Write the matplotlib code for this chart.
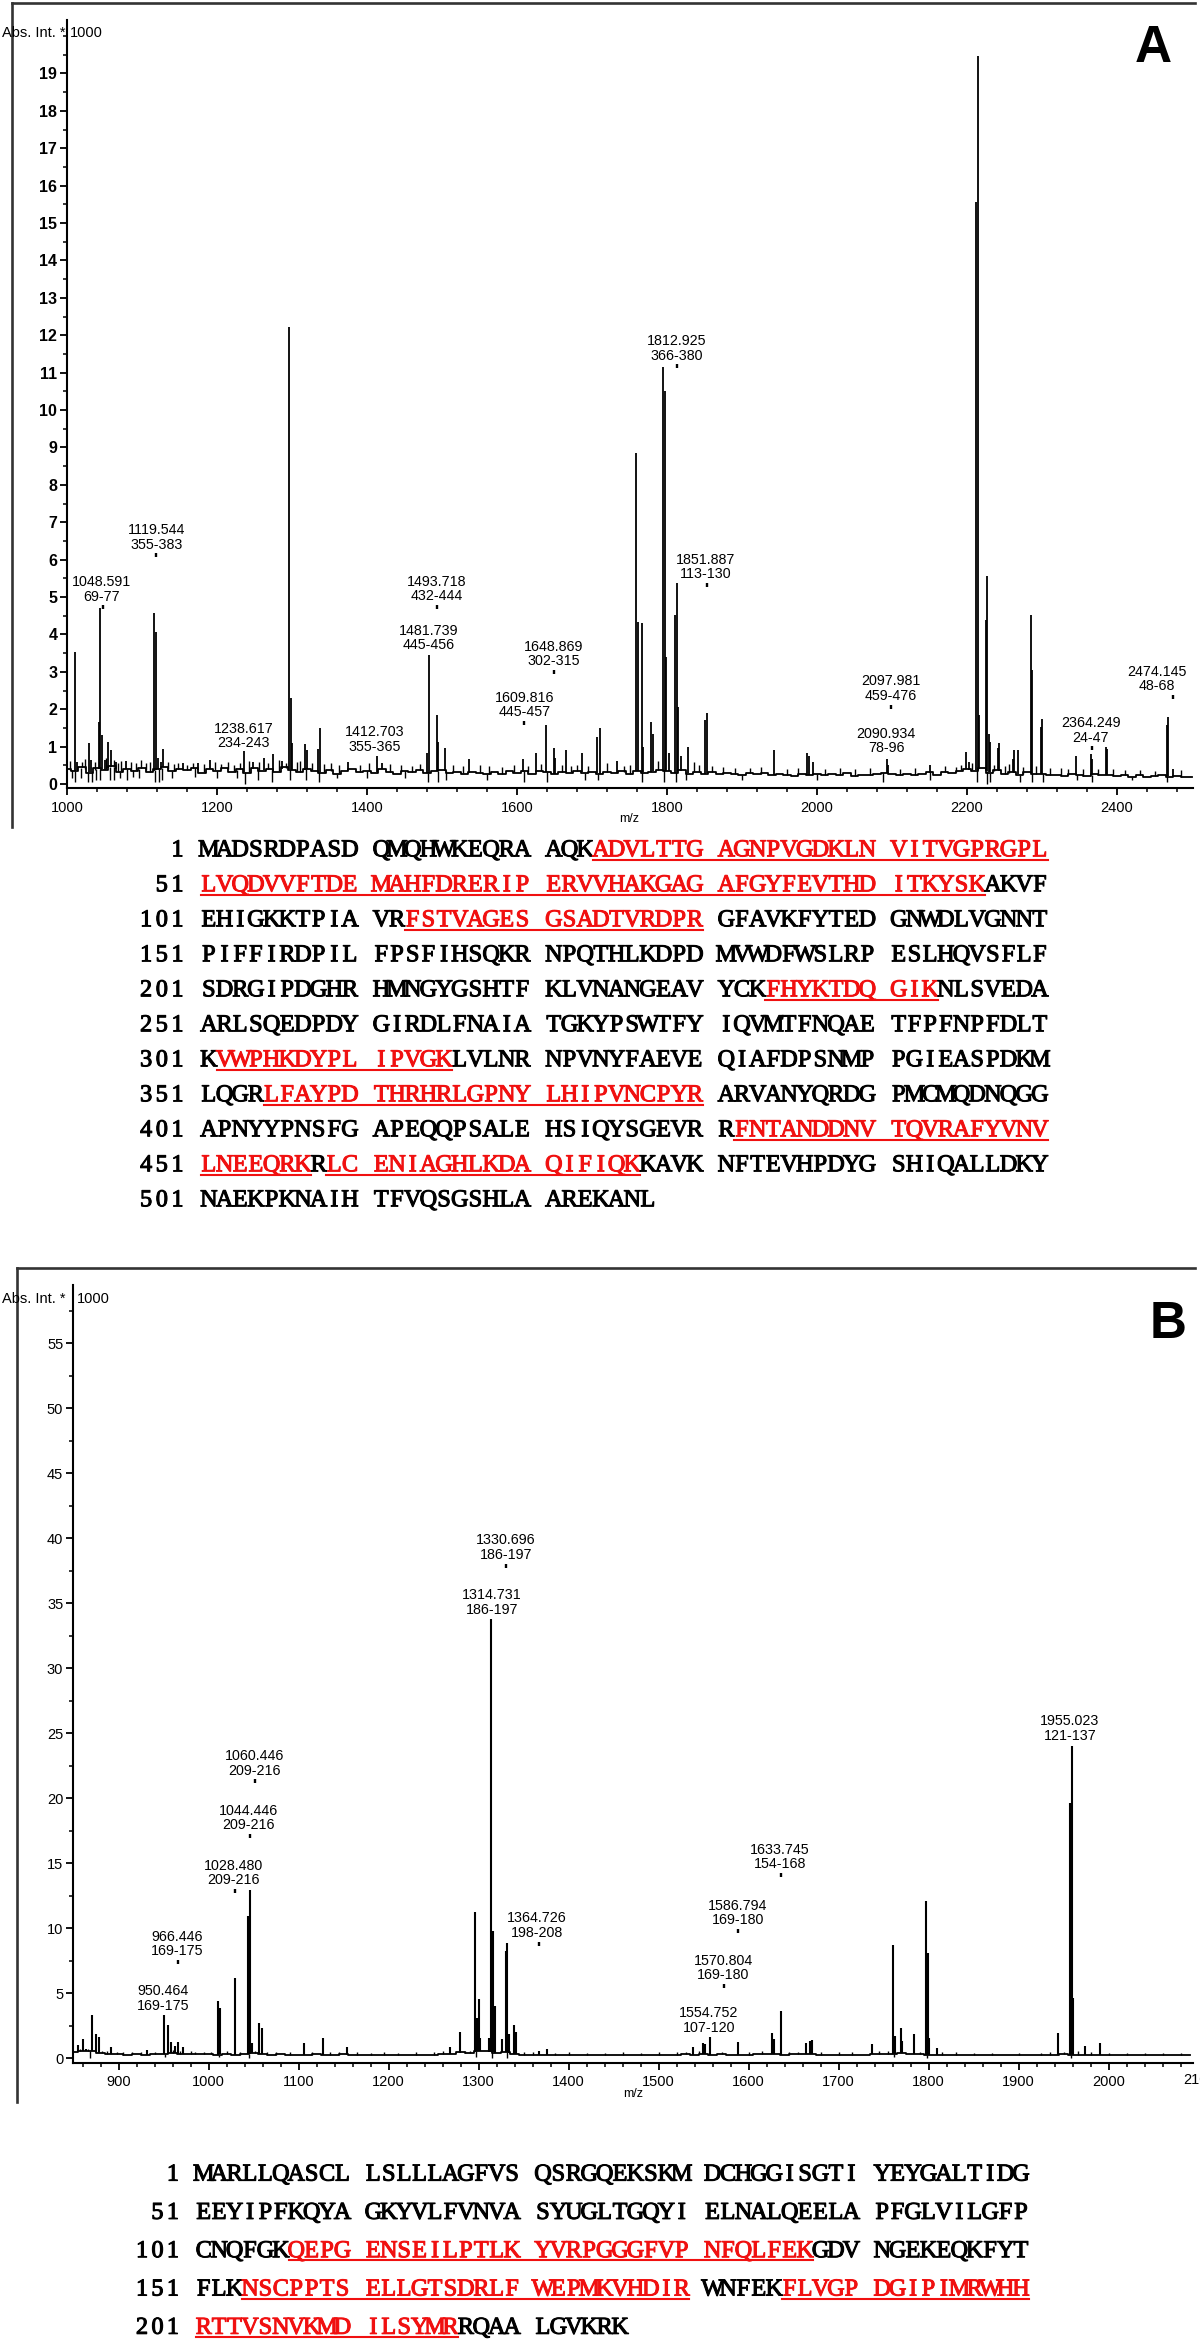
import numpy as np
import matplotlib
matplotlib.use('Agg')
import matplotlib.pyplot as plt
from matplotlib.lines import Line2D
from matplotlib.ticker import MultipleLocator, FixedLocator
import matplotlib.patheffects as pe

plt.rcParams['font.family'] = ['Liberation Sans', 'DejaVu Sans']

# ---------------- data: panel A spectrum ----------------
A_noise_start, A_noise_step = 1000, 10
A_noise = [0.40,0.35,0.45,0.30,0.42,0.38,0.47,0.33,0.41,0.36,
           0.44,0.31,0.39,0.46,0.34,0.40,0.37,0.43,0.30,0.41,
           0.36,0.44,0.33,0.39,0.29,0.42,0.35,0.40,0.31,0.45,
           0.38,0.32,0.41,0.35,0.30,0.37,0.28,0.34,0.39,0.31,
           0.36,0.30,0.40,0.33,0.27,0.35,0.31,0.38,0.29,0.34,
           0.37,0.30,0.33,0.27,0.32,0.29,0.26,0.31,0.28,0.35,
           0.30,0.34,0.28,0.36,0.31,0.27,0.33,0.30,0.35,0.29,
           0.32,0.27,0.31,0.29,0.34,0.28,0.36,0.30,0.33,0.38,
           0.35,0.30,0.37,0.28,0.33,0.27,0.31,0.26,0.30,0.28,
           0.25,0.29,0.26,0.30,0.24,0.28,0.25,0.22,0.27,0.24,
           0.28,0.23,0.26,0.24,0.29,0.22,0.25,0.23,0.27,0.30,
           0.26,0.24,0.28,0.23,0.27,0.31,0.25,0.33,0.29,0.36,
           0.40,0.35,0.42,0.30,0.38,0.27,0.33,0.25,0.31,0.28,
           0.26,0.23,0.25,0.22,0.27,0.24,0.21,0.26,0.23,0.25,
           0.22,0.24,0.20,0.23,0.19,0.22,0.24,0.20,0.21,0.18,
           0.20]
A_peak_mz = [1010,1013,1029,1032,1042,1044,1046,1050,1055,1058,1065,1078,1116,1118,1121,1125,1128,
             1155,1175,1190,1236,1248,1263,1275,1287,1296,1298,1300,1317,1320,1335,1337,1375,1413,1420,
             1480,1482,1493,1495,1504,1536,1608,1625,1639,1649,1651,1665,1687,1707,1710,1733,
             1759,1761,1766,1768,1779,1781,1795,1797,1799,1803,1811,1813,1815,1818,1828,1851,1853,
             1942,1987,1989,1995,2093,2095,2151,2199,2203,2212,2214,2216,2225,2227,2229,2231,2241,2243,
             2261,2263,2268,2285,2287,2298,2300,2345,2365,2367,2385,2387,2466,2468,2475]
A_peak_h = [3.54,0.60,1.10,0.65,1.67,4.70,1.30,0.65,1.13,0.90,0.60,0.62,4.56,4.07,0.70,0.60,0.93,
            0.55,0.55,0.65,0.88,0.60,0.70,0.80,0.62,12.23,2.30,1.10,1.07,0.90,0.93,1.50,0.60,0.75,0.55,
            0.83,3.45,1.84,1.13,0.96,0.66,0.66,0.83,1.58,0.96,0.70,0.92,0.83,1.27,1.50,0.62,
            8.84,4.34,4.30,0.99,1.67,1.35,11.14,10.50,3.40,0.83,4.52,5.37,2.07,0.75,0.99,1.71,1.90,
            0.90,0.83,0.75,0.60,0.68,0.50,0.50,0.85,0.60,15.56,19.48,1.84,4.38,5.56,1.35,1.13,0.96,1.10,
            0.68,0.92,0.92,4.52,3.05,1.53,1.75,0.75,0.81,0.66,0.99,0.93,1.58,1.80,0.40]
A_small_mz = [1004,1020,1024,1037,1052,1062,1068,1072,1085,1092,1098,1105,1110,1135,1142,1148,1160,
              1168,1182,1197,1205,1214,1222,1230,1243,1256,1268,1282,1292,1306,1311,1326,1343,1352,
              1362,1390,1402,1430,1445,1460,1470,1515,1528,1550,1563,1580,1596,1615,1632,1660,1672,
              1680,1695,1720,1742,1750,1788,1836,1842,1860,1875,1890,1910,1925,1960,1975,2010,2030,
              2050,2070,2110,2130,2170,2185,2192,2207,2236,2250,2256,2275,2292,2310,2325,2335,2355,
              2375,2395,2410,2430,2450,2485]
A_small_h = [0.62,0.58,0.66,0.60,0.70,0.64,0.55,0.61,0.59,0.57,0.63,0.56,0.60,0.58,0.54,0.57,0.52,
             0.55,0.53,0.58,0.54,0.60,0.51,0.56,0.62,0.58,0.55,0.64,0.57,0.59,0.61,0.55,0.53,0.56,
             0.50,0.52,0.55,0.54,0.51,0.49,0.53,0.50,0.47,0.52,0.49,0.46,0.51,0.48,0.53,0.50,0.47,
             0.52,0.49,0.55,0.47,0.50,0.62,0.58,0.52,0.47,0.45,0.44,0.42,0.45,0.41,0.44,0.40,0.43,
             0.39,0.42,0.41,0.44,0.47,0.45,0.52,0.55,0.50,0.48,0.53,0.46,0.49,0.44,0.42,0.40,0.41,
             0.39,0.40,0.37,0.38,0.36,0.37]
A_dip_mz = [1006,1011,1018,1028,1033,1039,1044,1057,1062,1070,1080,1088,1096,1117,1122,1127,1140,
            1170,1200,1226,1237,1255,1273,1297,1318,1336,1360,1400,1450,1481,1494,1505,1560,1609,
            1640,1690,1708,1767,1796,1812,1825,1900,2000,2088,2150,2213,2226,2230,2270,2286,2301,
            2346,2366,2420,2467]
A_dip_y = [0.15,0.05,0.15,0.05,0.05,0.12,0.10,0.10,0.10,0.15,0.10,0.18,0.15,0.05,0.05,0.10,0.15,
           0.18,0.15,0.15,0.00,0.10,0.05,0.10,0.10,0.05,0.15,0.15,0.15,0.05,0.05,0.10,0.12,0.05,
           0.05,0.12,0.10,0.05,0.05,0.05,0.10,0.12,0.12,0.05,0.10,0.05,0.00,0.05,0.05,0.05,0.05,
           0.10,0.05,0.10,0.05]
A_lab_text = ["1048.591\n69-77", "1119.544\n355-383", "1238.617\n234-243", "1412.703\n355-365",
              "1481.739\n445-456", "1493.718\n432-444", "1609.816\n445-457", "1648.869\n302-315",
              "1812.925\n366-380", "1851.887\n113-130", "2097.981\n459-476", "2090.934\n78-96",
              "2364.249\n24-47", "2474.145\n48-68"]
A_lab_x = [1046, 1119.5, 1235, 1410.7, 1481.8, 1493, 1610.7, 1648.4, 1812.7, 1852, 2098, 2092, 2365, 2453]
A_dot_x = [1047.5, 1119, 1235, 1410.7, 1481.8, 1493, 1609.5, 1649, 1812.7, 1853, 2098, 2092, 2366, 2475]
A_dot_y = [4.72, 6.12, 0.81, 0.71, 3.43, 4.74, 1.64, 3.0, 11.17, 5.32, 2.07, 0.67, 0.95, 2.33]
A_dot_show = [True, True, False, False, False, True, True, True, True, True, True, False, True, True]
A_xticks = [1000, 1200, 1400, 1600, 1800, 2000, 2200, 2400]
A_yticks = list(range(0, 20))

# ---------------- data: panel B spectrum ----------------
B_noise_start, B_noise_step = 850, 10
B_noise = [0.45,0.60,0.55,0.40,0.35,0.30,0.28,0.32,0.27,0.30,
           0.35,0.40,0.32,0.36,0.30,0.33,0.29,0.31,0.27,0.30,
           0.40,0.33,0.28,0.30,0.26,0.29,0.27,0.31,0.28,0.26,
           0.30,0.27,0.25,0.29,0.26,0.28,0.24,0.27,0.25,0.26,
           0.28,0.30,0.34,0.45,0.38,0.60,0.55,0.40,0.50,0.30,
           0.27,0.29,0.26,0.28,0.25,0.27,0.24,0.26,0.28,0.25,
           0.27,0.24,0.26,0.28,0.25,0.27,0.29,0.26,0.30,0.28,
           0.32,0.28,0.30,0.26,0.29,0.27,0.31,0.33,0.30,0.28,
           0.30,0.34,0.31,0.28,0.26,0.29,0.27,0.25,0.28,0.30,
           0.33,0.36,0.38,0.34,0.30,0.28,0.27,0.25,0.26,0.24,
           0.26,0.25,0.27,0.24,0.26,0.25,0.23,0.26,0.24,0.27,
           0.32,0.28,0.25,0.27,0.24,0.26,0.23,0.25,0.24,0.22,
           0.24,0.22,0.25,0.23,0.24]
B_peak_mz = [855,860,864,870,875,878,892,932,950,955,958,963,966,972,1010,1013,1029,1044,1046,1048,
             1056,1059,1106,1127,1154,1268,1279,1296,1298,1300,1302,1312,1314,1316,1318,1326,1330,
             1332,1334,1339,1341,1367,1376,1538,1549,1551,1557,1588,1626,1628,1636,1664,1668,1671,
             1737,1761,1763,1769,1771,1784,1797,1799,1801,1809,1944,1957,1959,1961,1974,1990]
B_peak_h = [1.02,1.45,0.74,3.31,1.85,1.67,0.90,0.64,3.31,2.57,1.26,0.95,1.28,0.87,4.41,3.90,6.20,10.95,12.95,1.20,
            2.72,2.33,1.15,1.54,0.87,0.87,2.03,11.26,3.10,4.54,1.54,1.60,33.80,9.80,4.03,1.45,8.26,
            8.85,1.85,2.57,2.00,0.60,0.72,0.90,1.20,1.08,1.67,1.26,1.97,1.46,3.64,1.20,1.33,1.40,
            1.08,8.72,1.72,2.36,1.33,1.85,12.10,8.13,1.59,0.82,1.97,19.60,24.00,4.67,0.95,1.20]
B_small_mz = [857,866,881,887,898,905,915,925,940,960,968,980,985,995,1003,1020,1035,1052,1065,1075,
              1090,1115,1135,1145,1165,1180,1195,1210,1230,1250,1260,1285,1290,1350,1360,1385,1400,
              1420,1440,1460,1480,1500,1520,1530,1545,1570,1600,1615,1645,1655,1680,1700,1715,1745,
              1755,1790,1815,1830,1850,1870,1900,1925,1935,1950,1966,1980,2000,2020,2040,2060,2080]
B_small_h = [0.70,0.75,0.60,0.55,0.50,0.48,0.52,0.45,0.50,0.62,0.58,0.55,0.52,0.50,0.48,0.55,0.52,
             0.60,0.50,0.48,0.45,0.50,0.47,0.52,0.45,0.44,0.47,0.43,0.46,0.48,0.55,0.60,0.58,0.50,
             0.46,0.44,0.45,0.43,0.42,0.45,0.44,0.46,0.45,0.50,0.55,0.52,0.48,0.55,0.50,0.52,0.47,
             0.49,0.50,0.55,0.58,0.52,0.50,0.47,0.44,0.42,0.41,0.43,0.45,0.50,0.55,0.45,0.42,0.40,
             0.41,0.39,0.40]
B_dip_mz = [868, 951, 1011, 1045, 1297, 1315, 1331, 1762, 1798, 1958]
B_dip_y = [0.05, 0.10, 0.10, 0.05, 0.10, 0.05, 0.05, 0.10, 0.05, 0.05]
B_lab_text = ["950.464\n169-175", "966.446\n169-175", "1028.480\n209-216", "1044.446\n209-216",
              "1060.446\n209-216", "1314.731\n186-197", "1330.696\n186-197", "1364.726\n198-208",
              "1554.752\n107-120", "1570.804\n169-180", "1586.794\n169-180", "1633.745\n154-168",
              "1955.023\n121-137"]
B_lab_x = [949.8, 965, 1027.6, 1044.6, 1051, 1314.7, 1330.4, 1364.9, 1556, 1571.8, 1588, 1634.8, 1957.1]
B_dot_x = [950, 966, 1029, 1046, 1051, 1315, 1330.4, 1367, 1556, 1573, 1588, 1636, 1957]
B_dot_y = [3.23, 7.41, 12.87, 17.1, 21.3, 33.7, 37.9, 8.82, 1.54, 5.56, 9.8, 14.1, 24.0]
B_dot_show = [False, True, True, True, True, False, True, True, False, True, True, True, False]
B_xticks = [900, 1000, 1100, 1200, 1300, 1400, 1500, 1600, 1700, 1800, 1900, 2000]
B_yticks = [0, 5, 10, 15, 20, 25, 30, 35, 40, 45, 50, 55]

# ---------------- data: sequences ----------------
seqA_rows = ["MADSRDPASD QMQHWKEQRA AQKADVLTTG AGNPVGDKLN VITVGPRGPL",
             "LVQDVVFTDE MAHFDRERIP ERVVHAKGAG AFGYFEVTHD ITKYSKAKVF",
             "EHIGKKTPIA VRFSTVAGES GSADTVRDPR GFAVKFYTED GNWDLVGNNT",
             "PIFFIRDPIL FPSFIHSQKR NPQTHLKDPD MVWDFWSLRP ESLHQVSFLF",
             "SDRGIPDGHR HMNGYGSHTF KLVNANGEAV YCKFHYKTDQ GIKNLSVEDA",
             "ARLSQEDPDY GIRDLFNAIA TGKYPSWTFY IQVMTFNQAE TFPFNPFDLT",
             "KVWPHKDYPL IPVGKLVLNR NPVNYFAEVE QIAFDPSNMP PGIEASPDKM",
             "LQGRLFAYPD THRHRLGPNY LHIPVNCPYR ARVANYQRDG PMCMQDNQGG",
             "APNYYPNSFG APEQQPSALE HSIQYSGEVR RFNTANDDNV TQVRAFYVNV",
             "LNEEQRKRLC ENIAGHLKDA QIFIQKKAVK NFTEVHPDYG SHIQALLDKY",
             "NAEKPKNAIH TFVQSGSHLA AREKANL"]
seqA_red = [(24, 96), (113, 130), (234, 243), (302, 315), (355, 380), (432, 457), (459, 476)]
seqB_rows = ["MARLLQASCL LSLLLAGFVS QSRGQEKSKM DCHGGISGTI YEYGALTIDG",
             "EEYIPFKQYA GKYVLFVNVA SYUGLTGQYI ELNALQEELA PFGLVILGFP",
             "CNQFGKQEPG ENSEILPTLK YVRPGGGFVP NFQLFEKGDV NGEKEQKFYT",
             "FLKNSCPPTS ELLGTSDRLF WEPMKVHDIR WNFEKFLVGP DGIPIMRWHH",
             "RTTVSNVKMD ILSYMRRQAA LGVKRK"]
seqB_red = [(107, 137), (154, 180), (186, 216)]

# ---------------- figure ----------------
W, H, DPI = 1200, 2351, 100
fig = plt.figure(figsize=(W / DPI, H / DPI), dpi=DPI)
fig.patch.set_facecolor('white')


def fx(x):
    return x / W


def fy(y):
    return 1 - y / H


def axes_px(l, t, r, b):
    return fig.add_axes([fx(l), fy(b), (r - l) / W, (b - t) / H])


def frame(x_left, y_top, y_bottom, x_right):
    fig.add_artist(Line2D([fx(x_left), fx(x_left)], [fy(y_top), fy(y_bottom)],
                          transform=fig.transFigure, color='#333333', lw=1.9))
    fig.add_artist(Line2D([fx(x_left), fx(x_right)], [fy(y_top), fy(y_top)],
                          transform=fig.transFigure, color='#333333', lw=1.9))


def draw_spectrum(ax, n_start, n_step, noise, pk_mz, pk_h, sm_mz, sm_h, dip_mz, dip_y, lw_pk):
    nx = n_start + n_step * np.arange(len(noise))
    ny = np.array(noise)
    ax.plot(nx, ny, color='black', lw=1.3, drawstyle='steps-mid')
    base = np.interp(sm_mz, nx, ny)
    ax.vlines(sm_mz, base, sm_h, color='black', lw=1.0)
    dbase = np.interp(dip_mz, nx, ny)
    ax.vlines(dip_mz, dip_y, dbase, color='black', lw=1.0)
    base = np.interp(pk_mz, nx, ny)
    ax.vlines(pk_mz, base, pk_h, color='black', lw=lw_pk)


def draw_labels(ax, texts, lx, dx, dy, show, fs=10.3):
    for t, x, xd, y, s in zip(texts, lx, dx, dy, show):
        if s:
            ax.plot([xd], [y], marker='|', ms=3.5, mew=1.7, color='black', ls='none')
        ax.annotate(t, xy=(x, y), xytext=(0, 2.6), textcoords='offset points',
                    ha='center', va='bottom', fontsize=fs, linespacing=1.05,
                    color='black', annotation_clip=False)


def style_axes(ax, ylab_bold, yfs, xfs):
    for s in ['top', 'right']:
        ax.spines[s].set_visible(False)
    for s in ['left', 'bottom']:
        ax.spines[s].set_linewidth(1.5)
        ax.spines[s].set_color('black')
    ax.tick_params(which='major', direction='out', length=5, width=1.3, colors='black')
    ax.tick_params(which='minor', direction='out', length=3, width=1.1, colors='black')
    ax.tick_params(axis='y', labelsize=yfs, pad=2)
    ax.tick_params(axis='x', labelsize=xfs, pad=4)
    if ylab_bold:
        for lab in ax.get_yticklabels():
            lab.set_fontweight('bold')
    ax.set_facecolor('none')


# ---------------- panel A ----------------
frame(12, 3, 827, 1195)
axA = axes_px(67, 20, 1193, 788)
draw_spectrum(axA, A_noise_start, A_noise_step, A_noise, A_peak_mz, A_peak_h,
              A_small_mz, A_small_h, A_dip_mz, A_dip_y, 1.3)
axA.set_xlim(1000, 2501.3)
axA.set_ylim(-0.107, 20.43)
axA.xaxis.set_major_locator(FixedLocator(A_xticks))
axA.xaxis.set_minor_locator(MultipleLocator(40))
axA.yaxis.set_major_locator(FixedLocator(A_yticks))
axA.yaxis.set_minor_locator(MultipleLocator(0.5))
axA.set_xticklabels([str(v) for v in A_xticks])
axA.set_yticklabels([str(v) for v in A_yticks])
style_axes(axA, True, 11.5, 10.5)
draw_labels(axA, A_lab_text, A_lab_x, A_dot_x, A_dot_y, A_dot_show)
fig.text(fx(65), fy(33), 'Abs. Int. *', ha='right', va='center', fontsize=10.5)
fig.text(fx(70), fy(33), '1000', ha='left', va='center', fontsize=10.5)
fig.text(fx(629), fy(819), 'm/z', ha='center', va='center', fontsize=9)
fig.text(fx(1153), fy(61.7), 'A', ha='center', va='baseline', fontsize=37, fontweight='bold')

# ---------------- panel B ----------------
frame(17, 1268, 2102, 1195)
axB = axes_px(73, 1285, 1193, 2063)
draw_spectrum(axB, B_noise_start, B_noise_step, B_noise, B_peak_mz, B_peak_h,
              B_small_mz, B_small_h, B_dip_mz, B_dip_y, 1.5)
axB.set_xlim(849.3, 2093.8)
axB.set_ylim(-0.36, 59.48)
axB.xaxis.set_major_locator(FixedLocator(B_xticks))
axB.xaxis.set_minor_locator(MultipleLocator(20))
axB.yaxis.set_major_locator(FixedLocator(B_yticks))
axB.yaxis.set_minor_locator(MultipleLocator(2.5))
axB.set_xticklabels([str(v) for v in B_xticks])
axB.set_yticklabels([str(v) for v in B_yticks])
style_axes(axB, False, 10.5, 10.5)
draw_labels(axB, B_lab_text, B_lab_x, B_dot_x, B_dot_y, B_dot_show)
fig.text(fx(1199.5), fy(2080), '2100', ha='center', va='center', fontsize=10.5)
fig.text(fx(66), fy(1299), 'Abs. Int. *', ha='right', va='center', fontsize=10.5)
fig.text(fx(77), fy(1299), '1000', ha='left', va='center', fontsize=10.5)
fig.text(fx(633), fy(2094), 'm/z', ha='center', va='center', fontsize=9)
fig.text(fx(1168), fy(1338), 'B', ha='center', va='baseline', fontsize=37, fontweight='bold')


# ---------------- sequences ----------------
def draw_sequence(rows, red_ranges, x_seq0, pitch, base0, dy, fs, red='#f01010'):
    kw = dict(family=['Liberation Serif', 'DejaVu Serif'], fontsize=fs,
              ha='center', va='baseline')

    def put(x, y, ch, col):
        fig.text(fx(x), fy(y), ch, color=col,
                 path_effects=[pe.withStroke(linewidth=0.75, foreground=col)], **kw)

    for r, row in enumerate(rows):
        num = 1 + 50 * r
        yb = base0 + r * dy
        nstr = str(num).rjust(3)
        for k, ch in enumerate(nstr):
            if ch != ' ':
                put(x_seq0 + (k - 4 + 0.5) * pitch, yb, ch, 'black')
        residue = num
        cell_red = []
        for i, ch in enumerate(row):
            if ch == ' ':
                cell_red.append(None)
                continue
            is_red = any(a <= residue <= b for a, b in red_ranges)
            cell_red.append(is_red)
            put(x_seq0 + (i + 0.5) * pitch, yb, ch, red if is_red else 'black')
            residue += 1
        flags = []
        for i, v in enumerate(cell_red):
            if v is None:
                prev = next((cell_red[j] for j in range(i - 1, -1, -1) if cell_red[j] is not None), False)
                nxt = next((cell_red[j] for j in range(i + 1, len(cell_red)) if cell_red[j] is not None), False)
                flags.append(bool(prev and nxt))
            else:
                flags.append(v)
        i = 0
        while i < len(flags):
            if flags[i]:
                j = i
                while j + 1 < len(flags) and flags[j + 1]:
                    j += 1
                x1 = x_seq0 + i * pitch
                x2 = x_seq0 + (j + 1) * pitch
                fig.add_artist(Line2D([fx(x1), fx(x2)], [fy(yb + 3.2), fy(yb + 3.2)],
                                      transform=fig.transFigure, color=red, lw=1.5))
                i = j + 1
            else:
                i += 1


draw_sequence(seqA_rows, seqA_red, 201, 15.68, 856.3, 35.0, 17.5)
draw_sequence(seqB_rows, seqB_red, 196, 15.42, 2180.6, 38.3, 17.5)

fig.savefig('out.png', dpi=DPI, facecolor='white')
